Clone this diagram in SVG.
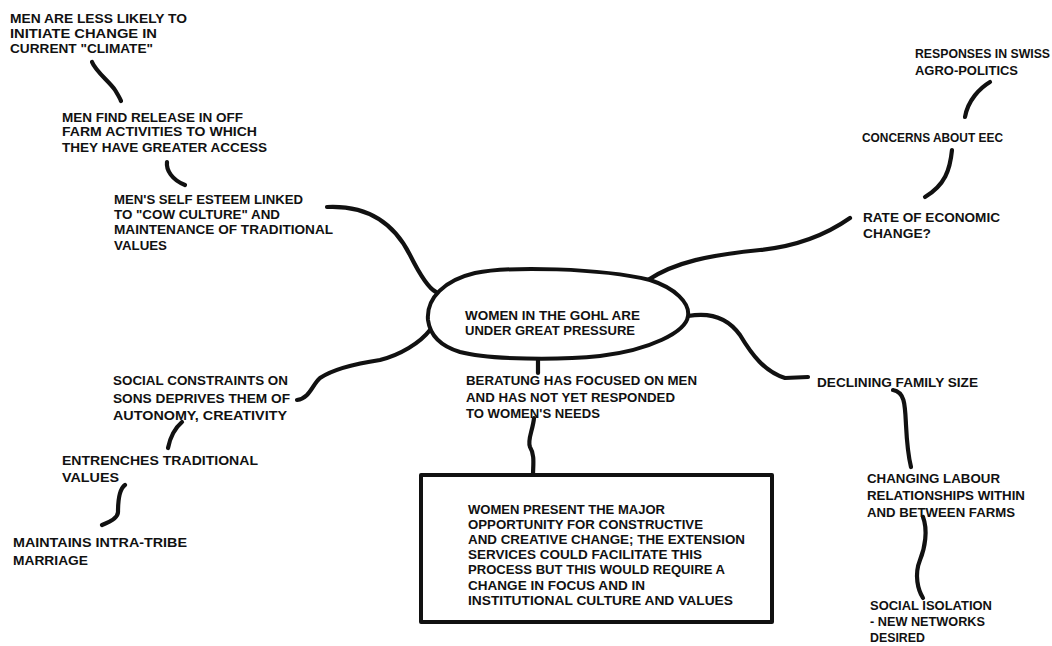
<svg xmlns="http://www.w3.org/2000/svg" width="1052" height="646" viewBox="0 0 1052 646">
  <style>
    .t { font-family: "Liberation Sans", Arial, sans-serif; font-weight: bold; font-size: 12.5px; fill: #111; }
    .c { fill: none; stroke: #111; stroke-width: 4.2; stroke-linecap: round; stroke-linejoin: round; }
    .outline { fill: #fff; stroke: #111; stroke-width: 4; stroke-linejoin: round; }
  </style>
  <rect width="1052" height="646" fill="#fff"/>

  <!-- hand-drawn connector strokes -->
  <g id="connectors">
    <path class="c" d="M92,62 C96,72 110,82 115,90 C118,95 120,98 121,101"/>
    <path class="c" d="M167,162 C166,170 172,180 185,185"/>
    <path class="c" d="M327,207 C370,205 395,225 410,255 C420,275 428,288 436,292"/>
    <path class="c" d="M297,400 C310,398 312,385 320,378 C335,368 360,363 380,360 C400,355 420,343 430,330"/>
    <path class="c" d="M182,422 C175,428 170,438 168,448"/>
    <path class="c" d="M125,485 C118,490 118,505 118,512 C118,518 110,522 102,525"/>
    <path class="c" d="M648,280 C675,262 710,255 760,250 C800,246 830,232 850,218"/>
    <path class="c" d="M990,82 C980,88 968,100 965,117"/>
    <path class="c" d="M952,150 C950,170 945,185 925,197"/>
    <path class="c" d="M688,316 C710,312 728,318 740,335 C752,355 765,372 785,378 L808,377"/>
    <path class="c" d="M893,390 C905,392 905,405 906,425 C907,445 908,455 911,467"/>
    <path class="c" d="M923,517 C928,530 925,548 920,560 C914,575 918,590 923,598"/>
    <path class="c" d="M538,357 L538,373"/>
    <path class="c" d="M534,418 C533,430 527,440 530,447 C535,455 533,465 533,475"/>
  </g>

  <g id="centre">
    <path class="outline" d="M428,320 C426,298 445,280 475,273 C510,266 600,268 650,280 C675,288 690,303 688,316 C686,332 650,350 600,356 C560,360 490,360 460,352 C440,346 430,335 428,320 Z"/>
    <text class="t" x="465" y="319.5" textLength="175" lengthAdjust="spacingAndGlyphs">WOMEN IN THE GOHL ARE</text>
    <text class="t" x="465" y="334.5" textLength="170" lengthAdjust="spacingAndGlyphs">UNDER GREAT PRESSURE</text>
  </g>

  <g id="men-less-likely">
    <text class="t" x="10" y="22.5" textLength="177" lengthAdjust="spacingAndGlyphs">MEN ARE LESS LIKELY TO</text>
    <text class="t" x="10" y="37.5" textLength="147" lengthAdjust="spacingAndGlyphs">INITIATE CHANGE IN</text>
    <text class="t" x="10" y="52.5" textLength="143" lengthAdjust="spacingAndGlyphs">CURRENT "CLIMATE"</text>
  </g>

  <g id="men-release">
    <text class="t" x="62" y="121.5" textLength="181" lengthAdjust="spacingAndGlyphs">MEN FIND RELEASE IN OFF</text>
    <text class="t" x="62" y="135.5" textLength="195" lengthAdjust="spacingAndGlyphs">FARM ACTIVITIES TO WHICH</text>
    <text class="t" x="62" y="151.5" textLength="205" lengthAdjust="spacingAndGlyphs">THEY HAVE GREATER ACCESS</text>
  </g>

  <g id="men-self-esteem">
    <text class="t" x="114" y="203.5" textLength="189" lengthAdjust="spacingAndGlyphs">MEN'S SELF ESTEEM LINKED</text>
    <text class="t" x="114" y="218.5" textLength="166" lengthAdjust="spacingAndGlyphs">TO "COW CULTURE" AND</text>
    <text class="t" x="114" y="233.5" textLength="219" lengthAdjust="spacingAndGlyphs">MAINTENANCE OF TRADITIONAL</text>
    <text class="t" x="114" y="249.5" textLength="53" lengthAdjust="spacingAndGlyphs">VALUES</text>
  </g>

  <g id="swiss-agro-politics">
    <text class="t" x="915" y="57.5" textLength="135" lengthAdjust="spacingAndGlyphs">RESPONSES IN SWISS</text>
    <text class="t" x="915" y="74.5" textLength="103" lengthAdjust="spacingAndGlyphs">AGRO-POLITICS</text>
  </g>

  <g id="eec">
    <text class="t" x="862" y="141.5" textLength="141" lengthAdjust="spacingAndGlyphs">CONCERNS ABOUT EEC</text>
  </g>

  <g id="economic-change">
    <text class="t" x="863" y="221.5" textLength="137" lengthAdjust="spacingAndGlyphs">RATE OF ECONOMIC</text>
    <text class="t" x="863" y="237.5" textLength="68" lengthAdjust="spacingAndGlyphs">CHANGE?</text>
  </g>

  <g id="social-constraints">
    <text class="t" x="113" y="384.5" textLength="175" lengthAdjust="spacingAndGlyphs">SOCIAL CONSTRAINTS ON</text>
    <text class="t" x="113" y="402.5" textLength="177" lengthAdjust="spacingAndGlyphs">SONS DEPRIVES THEM OF</text>
    <text class="t" x="113" y="419.5" textLength="174" lengthAdjust="spacingAndGlyphs">AUTONOMY, CREATIVITY</text>
  </g>

  <g id="entrenches">
    <text class="t" x="62" y="464.5" textLength="196" lengthAdjust="spacingAndGlyphs">ENTRENCHES TRADITIONAL</text>
    <text class="t" x="62" y="481.5" textLength="57" lengthAdjust="spacingAndGlyphs">VALUES</text>
  </g>

  <g id="intra-tribe">
    <text class="t" x="13" y="546.5" textLength="174" lengthAdjust="spacingAndGlyphs">MAINTAINS INTRA-TRIBE</text>
    <text class="t" x="13" y="564.5" textLength="75" lengthAdjust="spacingAndGlyphs">MARRIAGE</text>
  </g>

  <g id="beratung">
    <text class="t" x="466" y="384.5" textLength="231" lengthAdjust="spacingAndGlyphs">BERATUNG HAS FOCUSED ON MEN</text>
    <text class="t" x="466" y="401.5" textLength="209" lengthAdjust="spacingAndGlyphs">AND HAS NOT YET RESPONDED</text>
    <text class="t" x="466" y="417.5" textLength="134" lengthAdjust="spacingAndGlyphs">TO WOMEN'S NEEDS</text>
  </g>

  <g id="opportunity">
    <rect class="outline" x="421" y="475" width="351" height="147"/>
    <text class="t" x="468" y="514" textLength="197" lengthAdjust="spacingAndGlyphs">WOMEN PRESENT THE MAJOR</text>
    <text class="t" x="468" y="529" textLength="235" lengthAdjust="spacingAndGlyphs">OPPORTUNITY FOR CONSTRUCTIVE</text>
    <text class="t" x="468" y="544" textLength="277" lengthAdjust="spacingAndGlyphs">AND CREATIVE CHANGE; THE EXTENSION</text>
    <text class="t" x="468" y="559" textLength="234" lengthAdjust="spacingAndGlyphs">SERVICES COULD FACILITATE THIS</text>
    <text class="t" x="468" y="574" textLength="257" lengthAdjust="spacingAndGlyphs">PROCESS BUT THIS WOULD REQUIRE A</text>
    <text class="t" x="468" y="590" textLength="177" lengthAdjust="spacingAndGlyphs">CHANGE IN FOCUS AND IN</text>
    <text class="t" x="468" y="605" textLength="265" lengthAdjust="spacingAndGlyphs">INSTITUTIONAL CULTURE AND VALUES</text>
  </g>

  <g id="family-size">
    <text class="t" x="817" y="386.5" textLength="161" lengthAdjust="spacingAndGlyphs">DECLINING FAMILY SIZE</text>
  </g>

  <g id="labour-relationships">
    <text class="t" x="867" y="482.5" textLength="133" lengthAdjust="spacingAndGlyphs">CHANGING LABOUR</text>
    <text class="t" x="867" y="499.5" textLength="158" lengthAdjust="spacingAndGlyphs">RELATIONSHIPS WITHIN</text>
    <text class="t" x="867" y="516.5" textLength="148" lengthAdjust="spacingAndGlyphs">AND BETWEEN FARMS</text>
  </g>

  <g id="social-isolation">
    <text class="t" x="870" y="610" textLength="122" lengthAdjust="spacingAndGlyphs">SOCIAL ISOLATION</text>
    <text class="t" x="870" y="626" textLength="115" lengthAdjust="spacingAndGlyphs">- NEW NETWORKS</text>
    <text class="t" x="870" y="642" textLength="55" lengthAdjust="spacingAndGlyphs">DESIRED</text>
  </g>
</svg>
